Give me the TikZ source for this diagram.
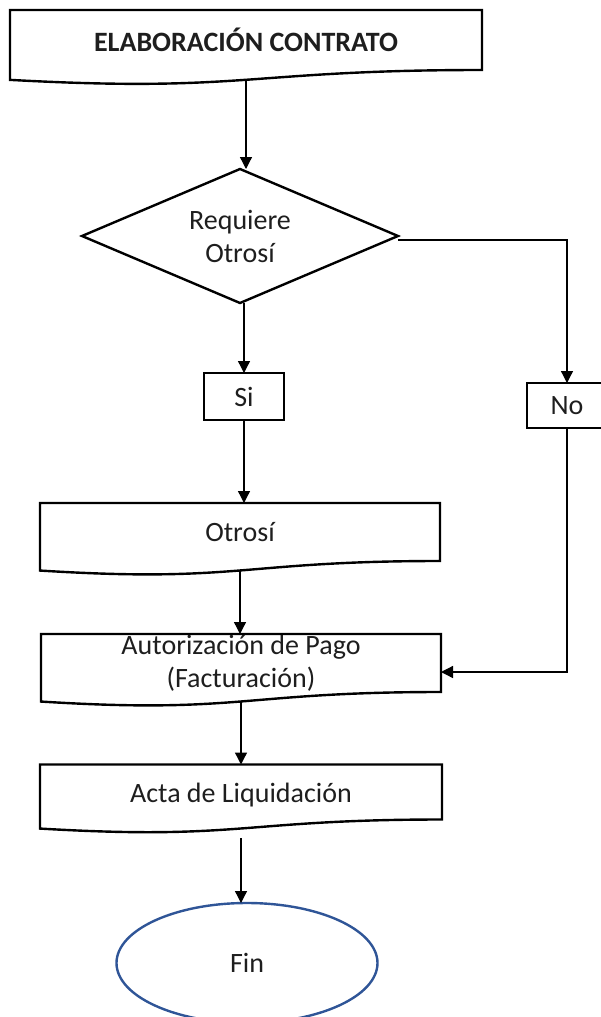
\documentclass[tikz,border=0pt]{standalone}
\usepackage{fontspec}
\setmainfont{Carlito}
\usetikzlibrary{shapes.geometric,arrows.meta,calc}
\definecolor{finblue}{RGB}{47,85,151}
\definecolor{txtgray}{RGB}{30,30,30}
\tikzset{
  shapeline/.style={draw=black, line width=2.4pt, line join=miter},
  txt/.style={font=\fontsize{28}{33}\selectfont, text=txtgray, align=center},
  docnode/.style={txt, draw=none, inner sep=0pt, outer sep=0pt},
  boxnode/.style={txt, shapeline, inner sep=0pt, outer sep=0pt},
  arr/.style={draw=black, line width=1.3pt, -{Triangle[length=12pt,width=12pt]}},
}
\newcommand\drawdoc[1]{%
  \draw[shapeline] (#1.north west) -- (#1.north east) -- (#1.south east)
    .. controls (#1.south) and ($(#1.north)!1.3803!(#1.south)$) ..
    ($(#1.north west)!1.1646!(#1.south west)$) -- cycle;
  \coordinate (#1-b) at ($(#1.north)!1.1633!(#1.south)$);}
\begin{document}
\begin{tikzpicture}[x=1pt,y=-1pt]
\useasboundingbox (0,0) rectangle (601,1017);
% document shapes
\node[docnode, minimum width=472pt, minimum height=60pt, font=\fontsize{28}{33}\selectfont\bfseries] (top) at (246,40) {ELABORACIÓN CONTRATO};
\drawdoc{top}
\node[txt, diamond, aspect=2.36, shapeline, minimum width=316pt, minimum height=134pt, inner sep=0pt, outer sep=0pt] (dia) at (240,236) {Requiere\\Otrosí};
\node[boxnode, minimum width=80pt, minimum height=47pt] (si) at (244,396.5) {Si};
\node[boxnode, minimum width=80pt, minimum height=45pt] (no) at (567,405.5) {No};
\node[docnode, minimum width=400pt, minimum height=58pt] (otr) at (240,532) {Otrosí};
\drawdoc{otr}
\node[docnode, minimum width=400pt, minimum height=58pt] (aut) at (241,663) {Autorización de Pago\\(Facturación)};
\drawdoc{aut}
\node[docnode, minimum width=402pt, minimum height=55pt] (acta) at (241,792) {};
\node[txt] (actatxt) at (241,795) {Acta de Liquidación};
\drawdoc{acta}
\node[txt, ellipse, draw=finblue, line width=2.4pt, minimum width=261pt, minimum height=120pt, inner sep=0pt, outer sep=0pt] (fin) at (247,963) {Fin};
% connectors
\draw[arr] (top-b) -- (top-b |- dia.north);
\draw[arr] (si.north |- dia.south) -- (si.north);
\draw[arr] ([yshift=-4pt]dia.east) -| (no.north);
\draw[arr] (si.south) -- (si.south |- otr.north);
\draw[arr] (otr-b) -- (otr-b |- aut.north);
\draw[arr] (no.south) |- ([yshift=-9pt]aut.east);
\draw[arr] (aut-b) -- (aut-b |- acta.north);
\draw[arr] ([yshift=-10pt]acta-b) -- (acta-b |- fin.north);
\end{tikzpicture}
\end{document}
